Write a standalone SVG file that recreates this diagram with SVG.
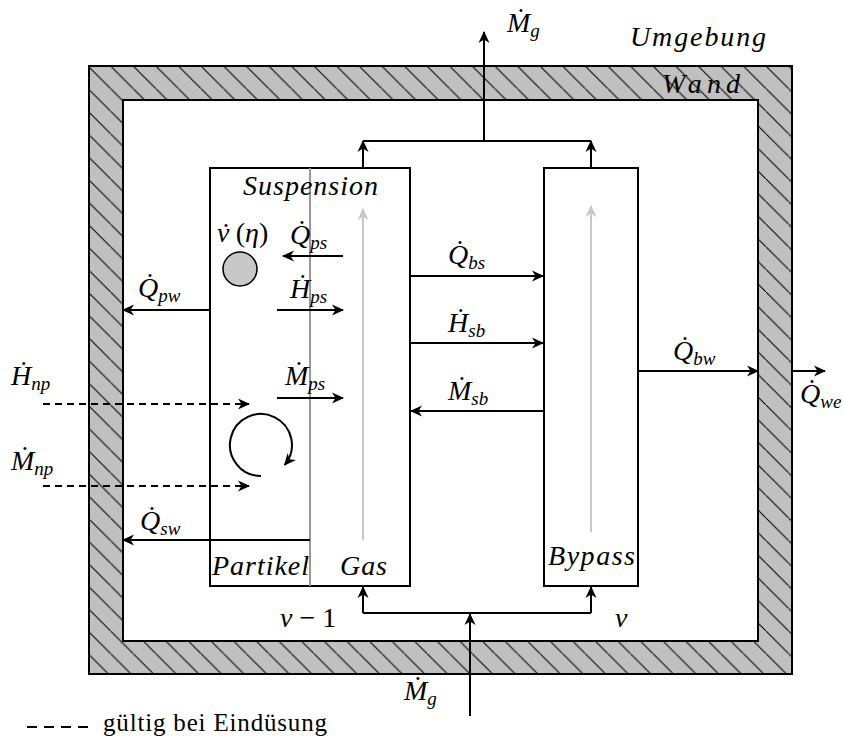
<svg xmlns="http://www.w3.org/2000/svg" width="844" height="738" viewBox="0 0 844 738">
<style>
.m{font-family:"Liberation Serif",serif;font-style:italic;font-size:28px;fill:#000}
.s{font-size:19px}
.r{font-family:"Liberation Serif",serif;font-size:25px;fill:#000}
.ln{stroke:#000;stroke-width:2;fill:none}
.box{stroke:#000;stroke-width:2;fill:#fff}
.dash{stroke:#000;stroke-width:2;fill:none;stroke-dasharray:7 5}
.gr{stroke:#c8c8c8;stroke-width:2;fill:none}
</style>
<defs>
<pattern id="hatch" patternUnits="userSpaceOnUse" width="22.6" height="22.6" x="88" y="66">
<rect width="22.6" height="22.6" fill="#c0c0c0"/>
<path d="M-2,-2 L24.6,24.6" stroke="#000" stroke-width="1"/>
</pattern>
<marker id="ah" viewBox="-12 -6 13 12" refX="0" refY="0" markerWidth="13" markerHeight="12" orient="auto" markerUnits="userSpaceOnUse">
<path d="M1,0 L-11,-5.5 L-7.5,0 L-11,5.5 Z" fill="#000"/>
</marker>
<marker id="ahg" viewBox="-12 -6 13 12" refX="0" refY="0" markerWidth="13" markerHeight="12" orient="auto" markerUnits="userSpaceOnUse">
<path d="M1,0 L-11,-5.5 L-7.5,0 L-11,5.5 Z" fill="#c8c8c8"/>
</marker>
</defs>
<rect width="844" height="738" fill="#fff"/>

<g id="wall">
<path d="M89,66 H792 V674 H89 Z M123,100 V641 H758 V100 Z" fill="url(#hatch)" fill-rule="evenodd" stroke="#000" stroke-width="2"/>
<text class="m" x="662" y="93" textLength="78" lengthAdjust="spacing">Wand</text>
</g>
<text id="umgebung" class="m" x="630" y="46" textLength="136" lengthAdjust="spacing">Umgebung</text>

<g id="suspension">
<rect class="box" x="210" y="168" width="200" height="418"/>
<line x1="310" y1="168" x2="310" y2="586" stroke="#999" stroke-width="2"/>
<text class="m" x="243" y="195" textLength="135" lengthAdjust="spacing">Suspension</text>
<text class="m" x="212" y="575" textLength="97" lengthAdjust="spacing">Partikel</text>
<text class="m" x="340" y="575" textLength="47" lengthAdjust="spacing">Gas</text>
<line class="gr" x1="363" y1="540" x2="363" y2="209" marker-end="url(#ahg)"/>
<circle cx="240" cy="269" r="17" fill="#c8c8c8" stroke="#000" stroke-width="1.5"/>
<text class="m" x="217" y="242">ν<tspan dx="-10">˙</tspan><tspan dx="7" font-style="normal">(</tspan>η<tspan font-style="normal">)</tspan></text>
<path class="ln" d="M261,476 A31,31 0 1 1 284.7,464.9" marker-end="url(#ah)"/>
</g>

<g id="bypass">
<rect class="box" x="544" y="168" width="94" height="418"/>
<line class="gr" x1="591" y1="532" x2="591" y2="206" marker-end="url(#ahg)"/>
<text class="m" x="548" y="565" textLength="87" lengthAdjust="spacing">Bypass</text>
</g>

<g id="connectors">
<line class="ln" x1="363" y1="168" x2="363" y2="141" marker-end="url(#ah)"/>
<line class="ln" x1="591" y1="168" x2="591" y2="141" marker-end="url(#ah)"/>
<line class="ln" x1="363" y1="141" x2="591" y2="141"/>
<line class="ln" x1="484" y1="141" x2="484" y2="32" marker-end="url(#ah)"/>
<line class="ln" x1="470" y1="716" x2="470" y2="614" marker-end="url(#ah)"/>
<line class="ln" x1="363" y1="613" x2="591" y2="613"/>
<line class="ln" x1="363" y1="613" x2="363" y2="587" marker-end="url(#ah)"/>
<line class="ln" x1="591" y1="613" x2="591" y2="587" marker-end="url(#ah)"/>
<line class="ln" x1="343" y1="256" x2="283" y2="256" marker-end="url(#ah)"/>
<line class="ln" x1="277" y1="310" x2="343" y2="310" marker-end="url(#ah)"/>
<line class="ln" x1="277" y1="398" x2="343" y2="398" marker-end="url(#ah)"/>
<line class="ln" x1="210" y1="310" x2="123" y2="310" marker-end="url(#ah)"/>
<line class="ln" x1="310" y1="540" x2="123" y2="540" marker-end="url(#ah)"/>
<line class="ln" x1="410" y1="276" x2="543" y2="276" marker-end="url(#ah)"/>
<line class="ln" x1="410" y1="343" x2="543" y2="343" marker-end="url(#ah)"/>
<line class="ln" x1="544" y1="411" x2="411" y2="411" marker-end="url(#ah)"/>
<line class="ln" x1="638" y1="371" x2="758" y2="371" marker-end="url(#ah)"/>
<line class="ln" x1="792" y1="371" x2="825" y2="371" marker-end="url(#ah)"/>
<line class="dash" x1="43" y1="404" x2="249" y2="404" marker-end="url(#ah)"/>
<line class="dash" x1="43" y1="486" x2="249" y2="486" marker-end="url(#ah)"/>
</g>

<g id="labels">
<text class="m" x="507" y="32">Ṁ<tspan class="s" dy="5">g</tspan></text>
<text class="m" x="404" y="700">Ṁ<tspan class="s" dy="5">g</tspan></text>
<text class="m" x="290" y="244">Q̇<tspan class="s" dy="5">ps</tspan></text>
<text class="m" x="290" y="298">Ḣ<tspan class="s" dy="5">ps</tspan></text>
<text class="m" x="285" y="385">Ṁ<tspan class="s" dy="5">ps</tspan></text>
<text class="m" x="138" y="297">Q̇<tspan class="s" dy="5">pw</tspan></text>
<text class="m" x="140" y="530">Q̇<tspan class="s" dy="5">sw</tspan></text>
<text class="m" x="448" y="264">Q̇<tspan class="s" dy="5">bs</tspan></text>
<text class="m" x="448" y="332">Ḣ<tspan class="s" dy="5">sb</tspan></text>
<text class="m" x="448" y="400">Ṁ<tspan class="s" dy="5">sb</tspan></text>
<text class="m" x="673" y="360">Q̇<tspan class="s" dy="5">bw</tspan></text>
<text class="m" x="800" y="403">Q̇<tspan class="s" dy="5">we</tspan></text>
<text class="m" x="11" y="385">Ḣ<tspan class="s" dy="5">np</tspan></text>
<text class="m" x="11" y="470">Ṁ<tspan class="s" dy="5">np</tspan></text>
<text class="m" x="280" y="627">ν <tspan font-style="normal">− 1</tspan></text>
<text class="m" x="615" y="627">ν</text>
</g>

<g id="legend">
<line x1="27" y1="727" x2="88" y2="727" stroke="#000" stroke-width="2" stroke-dasharray="10 7"/>
<text class="r" x="103" y="731" textLength="224" lengthAdjust="spacing">gültig bei Eindüsung</text>
</g>
</svg>
